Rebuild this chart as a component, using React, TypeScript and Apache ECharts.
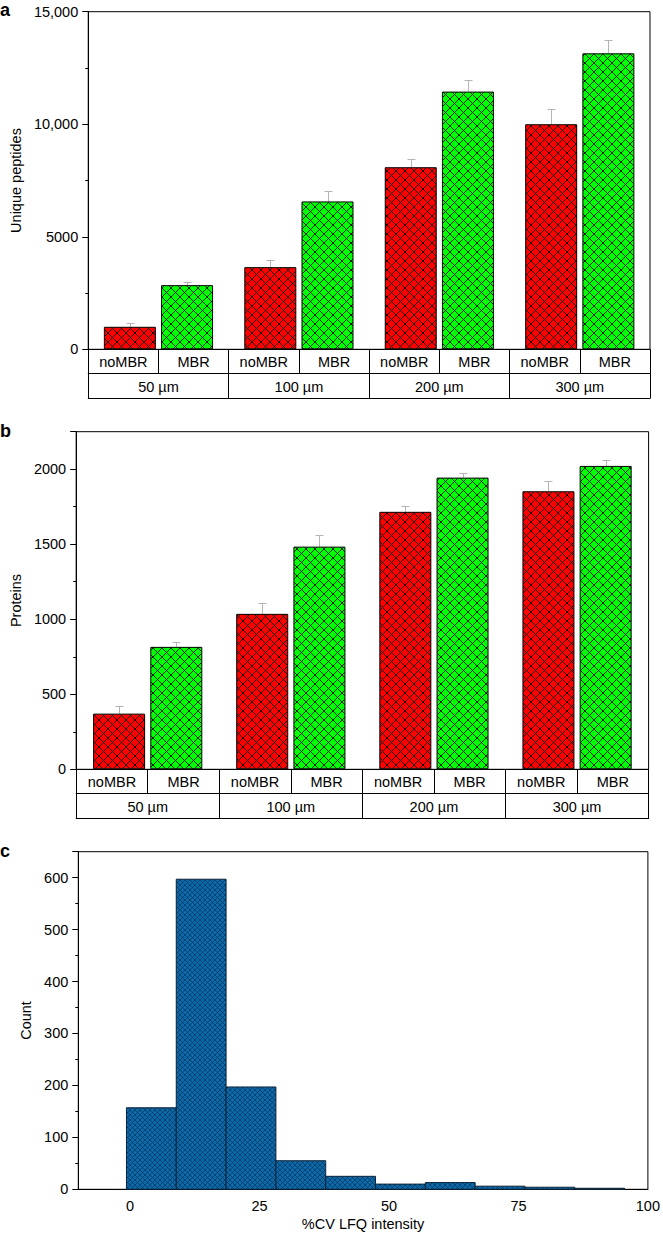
import React, { useEffect, useRef } from 'react';
import * as echarts from 'echarts';

// ---------- data ----------
const groups = ['50 µm', '100 µm', '200 µm', '300 µm'];
const subLabels = ['noMBR', 'MBR', 'noMBR', 'MBR', 'noMBR', 'MBR', 'noMBR', 'MBR'];

const peptidesNoMBR = [1000, 3650, 8090, 10000];
const peptidesNoMBRUpper = [1150, 3980, 8450, 10680];
const peptidesMBR = [2850, 6570, 11450, 13150];
const peptidesMBRUpper = [2985, 7020, 11980, 13730];

const proteinsNoMBR = [371, 1036, 1716, 1853];
const proteinsNoMBRUpper = [420, 1109, 1753, 1920];
const proteinsMBR = [816, 1484, 1944, 2022];
const proteinsMBRUpper = [849, 1560, 1973, 2060];

const cvBinEdges = [-0.7, 8.92, 18.54, 28.16, 37.78, 47.4, 57.02, 66.64, 76.26, 85.88, 95.5];
const cvCounts = [157, 597, 197, 55, 25, 10, 13, 6, 4, 2];
const cvTicks = [0, 25, 50, 75, 100];

// ---------- style ----------
const FONT = "'Liberation Sans', Arial, Helvetica, sans-serif";
const FS = 14.5;
const BAR_W = 52;
const BAR_GAP = 0.1;
const ERR_COLOR = '#b4b4b4';

function hatch(fill: string, line: string, size: number, lw: number) {
  const c = document.createElement('canvas');
  c.width = size;
  c.height = size;
  const ctx = c.getContext('2d')!;
  ctx.fillStyle = fill;
  ctx.fillRect(0, 0, size, size);
  ctx.strokeStyle = line;
  ctx.lineWidth = lw;
  for (const dx of [-size, 0, size]) {
    ctx.beginPath();
    ctx.moveTo(dx, 0);
    ctx.lineTo(dx + size, size);
    ctx.stroke();
    ctx.beginPath();
    ctx.moveTo(dx + size, 0);
    ctx.lineTo(dx, size);
    ctx.stroke();
  }
  return { image: c, repeat: 'repeat' as const };
}

function errSeries(xIdx: number, yIdx: number, vals: number[], tops: number[], side: number) {
  return {
    type: 'custom',
    xAxisIndex: xIdx,
    yAxisIndex: yIdx,
    z: 1,
    silent: true,
    data: vals.map((v, i) => [i, v, tops[i]]),
    encode: { x: 0, y: [1, 2] },
    renderItem: (_params: any, api: any) => {
      const off = (side * (BAR_W * (1 + BAR_GAP))) / 2;
      const b = api.coord([api.value(0), api.value(1)]);
      const t = api.coord([api.value(0), api.value(2)]);
      const x = Math.round(b[0] + off) + 0.5;
      const ty = Math.round(t[1]) + 0.5;
      return {
        type: 'group',
        children: [
          { type: 'line', shape: { x1: x, y1: b[1], x2: x, y2: ty }, style: { stroke: ERR_COLOR, lineWidth: 1 } },
          { type: 'line', shape: { x1: x - 4, y1: ty, x2: x + 4, y2: ty }, style: { stroke: ERR_COLOR, lineWidth: 1 } },
        ],
      };
    },
  };
}

function tableAxes(gridIndex: number) {
  const base = { type: 'category', gridIndex, position: 'bottom', boundaryGap: true, silent: true };
  const line = { color: '#000', width: 1 };
  return [
    { ...base, data: groups, axisLine: { show: true, lineStyle: line }, axisTick: { show: false }, axisLabel: { show: false } },
    {
      ...base,
      data: subLabels,
      offset: 0,
      axisLine: { show: false },
      axisTick: { show: true, interval: 0, length: 24, lineStyle: line },
      axisLabel: { interval: 0, margin: 5, fontSize: FS, color: '#000', fontFamily: FONT },
    },
    {
      ...base,
      data: groups,
      offset: 24,
      axisLine: { show: true, lineStyle: line },
      axisTick: { show: true, interval: 0, length: 25, lineStyle: line },
      axisLabel: { interval: 0, margin: 6, fontSize: FS, color: '#000', fontFamily: FONT },
    },
    { ...base, data: groups, offset: 49, axisLine: { show: true, lineStyle: line }, axisTick: { show: false }, axisLabel: { show: false } },
  ];
}

function mainY(gridIndex: number, max: number, interval: number, name: string, nameGap: number, fmt: (v: number) => string) {
  return {
    type: 'value',
    gridIndex,
    position: 'left',
    min: 0,
    max,
    interval,
    name,
    nameLocation: 'middle',
    nameGap,
    nameTextStyle: { fontSize: FS, color: '#000', fontFamily: FONT },
    axisLine: { show: true, onZero: false, lineStyle: { color: '#000', width: 1 } },
    axisTick: { show: true, length: 6, lineStyle: { color: '#000' } },
    axisLabel: { fontSize: FS, color: '#000', margin: 10, fontFamily: FONT, formatter: fmt },
    splitLine: { show: false },
  };
}

function minorY(gridIndex: number, max: number, interval: number) {
  return {
    type: 'value',
    gridIndex,
    position: 'left',
    min: 0,
    max,
    interval,
    axisLine: { show: false, onZero: false },
    axisTick: { show: true, length: 3, lineStyle: { color: '#000' } },
    axisLabel: { show: false },
    splitLine: { show: false },
  };
}

export default function App() {
  const ref = useRef<HTMLDivElement>(null);

  useEffect(() => {
    if (!ref.current) return;
    const chart = echarts.init(ref.current, undefined, { renderer: 'svg' });

    const red = hatch('#ff0000', 'rgba(0,0,0,0.85)', 9, 1);
    const green = hatch('#00ff00', 'rgba(0,0,0,0.85)', 9, 1);
    const blue = hatch('#0a6aab', 'rgba(5,40,70,0.75)', 5, 0.8);

    const gridStyle = { show: true, borderColor: '#000', borderWidth: 1, backgroundColor: 'transparent' };

    const barStyle = (color: any) => ({ color, borderColor: '#000', borderWidth: 1 });

    const option: any = {
      animation: false,
      textStyle: { fontFamily: FONT, color: '#000' },
      grid: [
        { ...gridStyle, left: 77, top: 11.7, width: 573, height: 337.6 },
        { ...gridStyle, left: 75, top: 431.7, width: 573.6, height: 337.6 },
        { ...gridStyle, left: 78.3, top: 851.7, width: 573, height: 337.6 },
      ],
      xAxis: [
        ...tableAxes(0),
        ...tableAxes(1),
        {
          type: 'value',
          gridIndex: 2,
          position: 'bottom',
          min: -10,
          max: 100,
          name: '%CV LFQ intensity',
          nameLocation: 'middle',
          nameGap: 27,
          nameTextStyle: { fontSize: FS, color: '#000', fontFamily: FONT },
          axisLine: { show: true, onZero: false, lineStyle: { color: '#000' } },
          axisTick: { show: false, customValues: cvTicks },
          axisLabel: { fontSize: FS, color: '#000', margin: 9, fontFamily: FONT, customValues: cvTicks },
          splitLine: { show: false },
        },
      ],
      yAxis: [
        {
          ...mainY(0, 15000, 5000, 'Unique peptides', 62, (v: number) =>
            v >= 10000 ? v.toLocaleString('en-US') : String(v)
          ),
          minorTick: { show: true, splitNumber: 2, length: 3, lineStyle: { color: '#000' } },
        },
        mainY(1, 2250, 500, 'Proteins', 51, (v: number) => (v > 2000 ? '' : String(v))),
        minorY(1, 2250, 250),
        mainY(2, 650, 100, 'Count', 45, (v: number) => (v > 600 ? '' : String(v))),
        minorY(2, 650, 50),
      ],
      series: [
        { type: 'bar', name: 'noMBR', xAxisIndex: 0, yAxisIndex: 0, data: peptidesNoMBR, barWidth: BAR_W, barGap: '10%', itemStyle: barStyle(red), silent: true },
        { type: 'bar', name: 'MBR', xAxisIndex: 0, yAxisIndex: 0, data: peptidesMBR, barWidth: BAR_W, barGap: '10%', itemStyle: barStyle(green), silent: true },
        errSeries(0, 0, peptidesNoMBR, peptidesNoMBRUpper, -1),
        errSeries(0, 0, peptidesMBR, peptidesMBRUpper, 1),

        { type: 'bar', name: 'noMBR', xAxisIndex: 4, yAxisIndex: 1, data: proteinsNoMBR, barWidth: BAR_W, barGap: '10%', itemStyle: barStyle(red), silent: true },
        { type: 'bar', name: 'MBR', xAxisIndex: 4, yAxisIndex: 1, data: proteinsMBR, barWidth: BAR_W, barGap: '10%', itemStyle: barStyle(green), silent: true },
        errSeries(4, 1, proteinsNoMBR, proteinsNoMBRUpper, -1),
        errSeries(4, 1, proteinsMBR, proteinsMBRUpper, 1),

        {
          type: 'custom',
          xAxisIndex: 8,
          yAxisIndex: 3,
          silent: true,
          data: cvCounts.map((c, i) => [cvBinEdges[i], cvBinEdges[i + 1], c]),
          encode: { x: [0, 1], y: 2 },
          renderItem: (_params: any, api: any) => {
            const p0 = api.coord([api.value(0), api.value(2)]);
            const p1 = api.coord([api.value(1), 0]);
            return {
              type: 'rect',
              shape: { x: p0[0], y: p0[1], width: p1[0] - p0[0], height: p1[1] - p0[1] },
              style: { fill: blue, stroke: '#0d2236', lineWidth: 1 },
            };
          },
        },
      ],
      graphic: [
        { type: 'text', left: 0, top: 1, style: { text: 'a', fontSize: 18, fontWeight: 'bold', fill: '#000', fontFamily: FONT } },
        { type: 'text', left: 0, top: 422, style: { text: 'b', fontSize: 18, fontWeight: 'bold', fill: '#000', fontFamily: FONT } },
        { type: 'text', left: 0, top: 842, style: { text: 'c', fontSize: 18, fontWeight: 'bold', fill: '#000', fontFamily: FONT } },
      ],
    };

    chart.setOption(option);
    return () => chart.dispose();
  }, []);

  return <div ref={ref} style={{ position: 'absolute', left: 0, top: 0, width: 663, height: 1234, background: '#fff' }} />;
}
